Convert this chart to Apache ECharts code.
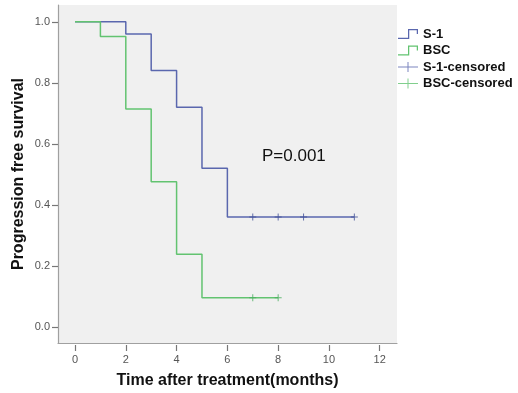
<!DOCTYPE html>
<html>
<head>
<meta charset="utf-8">
<script src="https://cdn.jsdelivr.net/npm/echarts@6/dist/echarts.min.js"></script>
<style>html,body{margin:0;padding:0;background:#fff}#c{width:518px;height:393px}</style>
</head>
<body>
<div id="c"></div>
<script>
const s1Times = [0, 2, 3, 4, 5, 6, 11];
const s1Surv = [1.0, 0.96, 0.84, 0.72, 0.52, 0.36, 0.36];
const bscTimes = [0, 1, 2, 3, 4, 5, 8];
const bscSurv = [1.0, 0.952, 0.714, 0.476, 0.238, 0.095, 0.095];
const s1CensTimes = [7, 8, 9, 11];
const s1CensSurv = [0.36, 0.36, 0.36, 0.36];
const bscCensTimes = [7, 8];
const bscCensSurv = [0.095, 0.095];
const xTicks = [0, 2, 4, 6, 8, 10, 12];
const yTicks = [0.0, 0.2, 0.4, 0.6, 0.8, 1.0];
const seriesNames = ['S-1', 'BSC', 'S-1-censored', 'BSC-censored'];
const pText = 'P=0.001';

const zip = (a, b) => a.map((v, i) => [v, b[i]]);
const blue = '#5A67AE', blueDark = '#3F4D96', green = '#62C370', greenDark = '#47AD5C';
const FONT = '"Liberation Sans", Arial, sans-serif';
const plus = 'path://M3,0H4V3H7V4H4V7H3V4H0V3H3Z';
const stepIcon = 'path://M0,9H8V2H16V6H15V3H9V10H0Z';
const crossIcon = 'path://M0,4.5H20V5.5H0Z M9.5,0H10.5V10H9.5Z';

const chart = echarts.init(document.getElementById('c'), null, {renderer: 'canvas'});
const xCommon = {type: 'value', min: -0.67, max: 12.68, splitLine: {show: false}};
chart.setOption({
  animation: false,
  grid: {left: 58, top: 5, right: 121, bottom: 50, show: true, backgroundColor: '#F0F0F0', borderWidth: 0,
    containLabel: false, outerBoundsMode: 'none'},
  xAxis: [
    Object.assign({}, xCommon, {
      axisLine: {show: true, onZero: false, lineStyle: {color: '#A0A0A0', width: 1.2}},
      axisTick: {show: false}, axisLabel: {show: false},
      name: 'Time after treatment(months)', nameLocation: 'middle', nameGap: 30, nameMoveOverlap: false,
      nameTextStyle: {fontFamily: FONT, fontWeight: 'bold', fontSize: 16, color: '#111'}
    }),
    Object.assign({}, xCommon, {
      position: 'bottom', offset: 2,
      axisLine: {show: false, onZero: false},
      axisTick: {show: true, length: 6, customValues: xTicks, lineStyle: {color: '#777', width: 1.2}},
      axisLabel: {customValues: xTicks, margin: 9, fontFamily: FONT, fontSize: 11, color: '#555', formatter: v => String(v)}
    })
  ],
  yAxis: {
    type: 'value', min: -0.053, max: 1.055, splitLine: {show: false},
    axisLine: {show: true, onZero: false, lineStyle: {color: '#A0A0A0', width: 1.2}},
    axisTick: {show: true, length: 6, customValues: yTicks, lineStyle: {color: '#777', width: 1.2}},
    axisLabel: {customValues: yTicks, margin: 8, fontFamily: FONT, fontSize: 11, color: '#555', formatter: v => v.toFixed(1)},
    name: 'Progression free survival', nameLocation: 'middle', nameGap: 31, nameMoveOverlap: false,
    nameTextStyle: {fontFamily: FONT, fontWeight: 'bold', fontSize: 16, color: '#111'}
  },
  legend: {
    orient: 'vertical', left: 398, top: 27, padding: 0, itemWidth: 20, itemHeight: 10, itemGap: 2.5,
    textStyle: {fontFamily: FONT, fontWeight: 'bold', fontSize: 13, color: '#111', lineHeight: 14},
    data: [
      {name: seriesNames[0], icon: stepIcon, itemStyle: {color: blue}},
      {name: seriesNames[1], icon: stepIcon, itemStyle: {color: green}},
      {name: seriesNames[2], icon: crossIcon, itemStyle: {color: blue}},
      {name: seriesNames[3], icon: crossIcon, itemStyle: {color: green}}
    ]
  },
  graphic: [{
    type: 'text', left: 262, top: 148,
    style: {text: pText, font: '17px "Liberation Sans", Arial, sans-serif', fill: '#111'}
  }],
  series: [
    {name: seriesNames[0], type: 'line', step: 'end', symbol: 'none', data: zip(s1Times, s1Surv),
      lineStyle: {color: blue, width: 1.5}, itemStyle: {color: blue}},
    {name: seriesNames[1], type: 'line', step: 'end', symbol: 'none', data: zip(bscTimes, bscSurv),
      lineStyle: {color: green, width: 1.5}, itemStyle: {color: green}},
    {name: seriesNames[2], type: 'scatter', symbol: plus, symbolSize: 7, data: zip(s1CensTimes, s1CensSurv),
      itemStyle: {color: blueDark}, z: 3},
    {name: seriesNames[3], type: 'scatter', symbol: plus, symbolSize: 7, data: zip(bscCensTimes, bscCensSurv),
      itemStyle: {color: greenDark}, z: 3}
  ]
});
</script>
</body>
</html>
